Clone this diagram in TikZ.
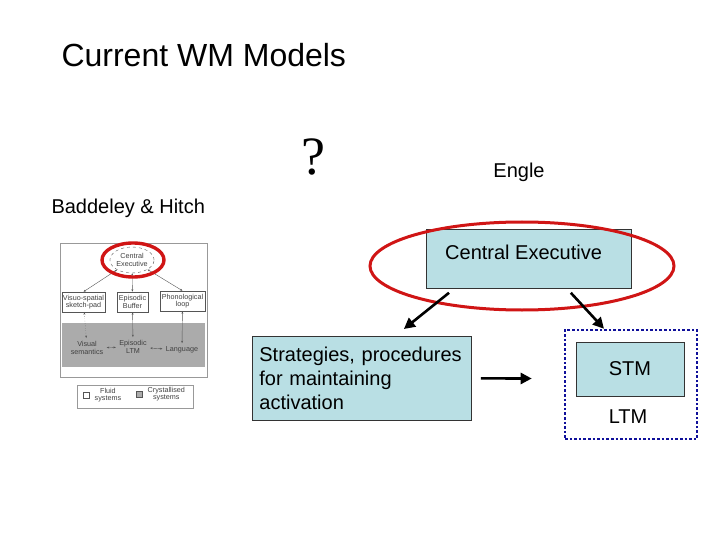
\documentclass[tikz,border=0pt]{standalone}
\usepackage{fontspec}
\setmainfont{Liberation Sans}
\newfontfamily\qfont{Liberation Serif}
\usepackage{xcolor}
\definecolor{box-fill}{HTML}{B9DFE4}
\definecolor{ring-red}{HTML}{D01515}
\definecolor{dot-blue}{HTML}{10109A}
\definecolor{scan-grey}{HTML}{ABABAB}
\definecolor{scan-line}{HTML}{555555}
\usetikzlibrary{positioning, calc, arrows.meta, shapes.geometric}

\begin{document}
\begin{tikzpicture}[x=1pt, y=-1pt,
        every node/.style={font=\fontsize{20}{24}\selectfont},
        box/.style={draw=black!80, fill=box-fill, line width=0.8pt},
        bigarrow/.style={-{Triangle[length=11pt,width=11pt]}, line width=2.6pt},
        scantext/.style={font=\rmfamily\fontsize{7.2}{7.6}\selectfont, align=center, text=black!75},
        scanbox/.style={draw=scan-line, line width=0.5pt, fill=white, inner sep=1pt, minimum height=20pt},
        scanarrow/.style={{Stealth[length=2.5pt]}-{Stealth[length=2.5pt]}, scan-line, line width=0.4pt}]
      \useasboundingbox (0,0) rectangle (720,540);
      \node[anchor=west, font=\fontsize{32}{36}\selectfont] (title) at (58,55) {Current WM Models};
      \node[font=\qfont\fontsize{54}{54}\selectfont] (query) at (313,157) {?};
      \node (engle) at (519,172) {Engle};
      \node[anchor=west] (bh) at (48,208) {Baddeley \& Hitch};

      % Baddeley & Hitch scan
      \node[draw=scan-line!60, line width=0.6pt, minimum width=147pt, minimum height=134pt] (scan) at (133.5,310) {};
      \node[fill=scan-grey, minimum width=143pt, minimum height=44pt] (crystal) at (133.5,345) {};
      \node[draw=scan-line, dashed, line width=0.4pt, ellipse, minimum width=44pt, minimum height=26pt, inner sep=0pt,
            scantext] (scanCE) at (132,260) {Central\\Executive};
      \node[scanbox, scantext, minimum width=43pt] (vsp) at (83.5,302) {Visuo-spatial\\sketch-pad};
      \node[scanbox, scantext, minimum width=31pt] (eb) at (132.5,302) {Episodic\\Buffer};
      \node[scanbox, scantext, minimum width=45pt] (pl) at (182.5,301) {Phonological\\loop};
      \node[scantext] (vis) at (87,348) {Visual\\semantics};
      \node[scantext] (eltm) at (133,347) {Episodic\\LTM};
      \node[scantext] (lang) at (182,350) {Language};
      \draw[scanarrow] (scanCE) -- (vsp.north);
      \draw[scanarrow] (scanCE) -- (eb);
      \draw[scanarrow] (scanCE) -- (pl.north);
      \draw[scanarrow, dotted] (vsp) -- (vis);
      \draw[scanarrow] (eb) -- (eltm);
      \draw[scanarrow] (pl) -- (lang);
      \draw[scanarrow] (vis) -- (eltm);
      \draw[scanarrow] (eltm) -- (lang);
      \draw[ring-red, line width=3.4pt] (133,260) ellipse [x radius=31, y radius=17];
      \node[draw=scan-line!60, line width=0.5pt, minimum width=116pt, minimum height=23pt] (legend) at (135,396.5) {};
      \node[draw=scan-line, fill=white, minimum size=6pt, inner sep=0pt] (fluidKey) at (86,395) {};
      \node[scantext, right=2pt of fluidKey] (fluid) {Fluid\\systems};
      \node[draw=scan-line, fill=scan-grey, minimum size=6pt, inner sep=0pt] (crystKey) at (139,394) {};
      \node[scantext, right=2pt of crystKey] (cryst) {Crystallised\\systems};

      % Engle
      \node[box, anchor=north west, minimum width=205pt, minimum height=59pt] (ceBox) at (426,229) {};
      \node[below right=16pt and 19pt of ceBox.north west, inner sep=0pt] (ceText) {Central Executive};
      \node[box, anchor=north west, text width=205pt, minimum height=84pt, inner xsep=7pt, align=left] (stratBox) at (252,336)
        {Strategies, procedures\\for maintaining\\activation};
      \node[draw=dot-blue, dotted, line width=2.6pt, minimum width=132pt, minimum height=109pt] (memBox) at (631,384.5) {};
      \node[box, minimum width=108pt, minimum height=54pt] (stmBox) at (630,369) {STM};
      \node (ltm) at (628,417) {LTM};
      \draw[ring-red, line width=3pt] (522,266) ellipse [x radius=152, y radius=44];
      \draw[bigarrow] ($(ceBox.south west)+(23,4)$) -- ($(stratBox.north)+(42,-7)$);
      \draw[bigarrow] ($(ceBox.south east)+(-61,4)$) -- ($(memBox.north)+(-27,0)$);
      \draw[bigarrow] ($(stratBox.east)+(9,0)$) -- ($(memBox.west)+(-32,-6)$);
    \end{tikzpicture}
\end{document}
